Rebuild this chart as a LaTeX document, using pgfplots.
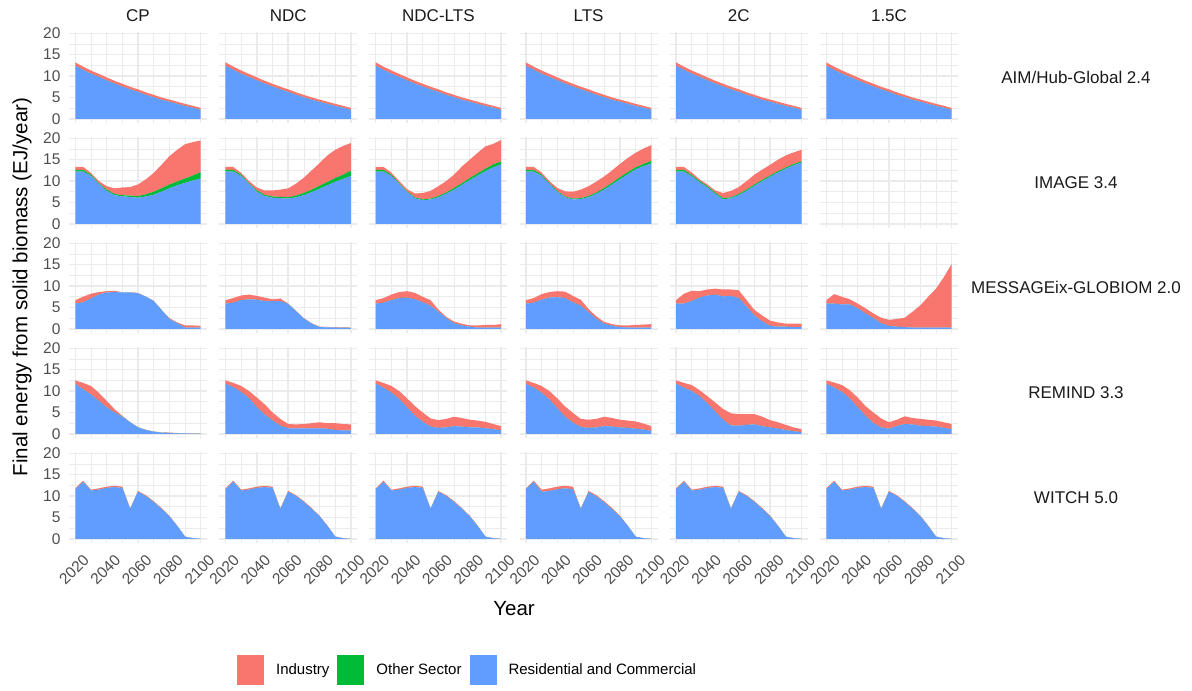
\documentclass[border=0pt]{standalone}
\usepackage{fontspec}
\setmainfont{Liberation Sans}
\usepackage{pgfplots}
\usepackage{pgfplotstable}
\pgfplotsset{compat=1.18}
\definecolor{indc}{HTML}{F8766D}
\definecolor{othc}{HTML}{00BA38}
\definecolor{resc}{HTML}{619CFF}
\definecolor{gridc}{HTML}{EBEBEB}
\definecolor{tickc}{HTML}{4D4D4D}
\definecolor{stripc}{HTML}{1A1A1A}

% ---------------- AIM/Hub-Global 2.4 (same in all scenarios)
\pgfplotstableread{
year res oth ind
2020 12.4 0 0.8
2025 11.45 0 0.75
2030 10.55 0 0.75
2035 9.8 0 0.7
2040 9.0 0 0.7
2045 8.25 0 0.65
2050 7.55 0 0.65
2055 6.9 0 0.6
2060 6.3 0 0.6
2065 5.6 0 0.6
2070 5.05 0 0.55
2075 4.45 0 0.55
2080 4.0 0 0.5
2085 3.5 0 0.5
2090 3.0 0 0.5
2095 2.6 0 0.45
2100 2.1 0 0.45
}\tAIM
% ---------------- IMAGE 3.4
\pgfplotstableread{
year res oth ind
2020 12.2 0.4 0.7
2025 12.2 0.4 0.7
2030 11.2 0.3 0.4
2035 9.3 0.2 0.5
2040 7.7 0.3 0.8
2045 6.7 0.3 1.3
2050 6.4 0.3 1.8
2055 6.3 0.3 2.0
2060 6.1 0.4 2.7
2065 6.4 0.5 3.5
2070 6.8 0.7 4.4
2075 7.5 0.8 5.5
2080 8.3 0.9 6.6
2085 9.0 0.9 7.4
2090 9.6 1.0 8.0
2095 10.1 1.2 7.8
2100 10.6 1.5 7.4
}\tIMcp
\pgfplotstableread{
year res oth ind
2020 12.2 0.4 0.7
2025 12.2 0.4 0.7
2030 11.2 0.3 0.4
2035 9.3 0.2 0.5
2040 7.5 0.3 0.7
2045 6.5 0.3 1.0
2050 6.1 0.3 1.4
2055 6.0 0.3 1.7
2060 5.9 0.3 2.1
2065 6.2 0.4 2.8
2070 6.7 0.5 3.6
2075 7.4 0.6 4.5
2080 8.2 0.7 5.3
2085 9.0 0.8 6.2
2090 9.8 0.9 6.6
2095 10.5 1.0 6.7
2100 11.2 1.2 6.5
}\tIMndc
\pgfplotstableread{
year res oth ind
2020 12.2 0.4 0.7
2025 12.2 0.4 0.7
2030 11.2 0.3 0.5
2035 9.3 0.2 0.5
2040 7.4 0.2 0.5
2045 6.0 0.2 0.9
2050 5.5 0.2 1.5
2055 5.7 0.2 1.8
2060 6.2 0.3 2.3
2065 7.0 0.3 2.7
2070 8.0 0.4 3.1
2075 9.1 0.4 3.9
2080 10.2 0.5 4.3
2085 11.3 0.5 4.8
2090 12.3 0.6 5.2
2095 13.2 0.7 4.8
2100 13.9 0.7 5.0
}\tIMnl
\pgfplotstableread{
year res oth ind
2020 12.2 0.4 0.7
2025 12.2 0.4 0.7
2030 11.2 0.3 0.5
2035 9.3 0.2 0.5
2040 7.5 0.2 0.7
2045 6.2 0.2 1.2
2050 5.7 0.2 1.6
2055 5.8 0.2 2.0
2060 6.2 0.3 2.3
2065 7.0 0.3 2.6
2070 8.0 0.4 2.7
2075 9.2 0.4 2.9
2080 10.4 0.5 3.1
2085 11.6 0.5 3.3
2090 12.7 0.5 3.4
2095 13.5 0.5 3.6
2100 14.1 0.6 3.7
}\tIMlts
\pgfplotstableread{
year res oth ind
2020 12.2 0.4 0.7
2025 12.2 0.4 0.7
2030 11.1 0.3 0.6
2035 9.7 0.3 0.4
2040 8.5 0.3 0.4
2045 7.0 0.3 0.5
2050 5.7 0.3 1.2
2055 6.0 0.2 1.5
2060 6.7 0.3 1.6
2065 7.7 0.3 2.0
2070 8.9 0.3 2.3
2075 10.0 0.3 2.4
2080 11.0 0.3 2.5
2085 12.0 0.3 2.7
2090 12.9 0.3 2.8
2095 13.7 0.3 2.7
2100 14.3 0.3 2.7
}\tIMtwo
% ---------------- MESSAGEix-GLOBIOM 2.0
\pgfplotstableread{
year res oth ind
2020 5.9 0 0.8
2025 6.2 0 1.3
2030 7.1 0 1.1
2035 8.0 0 0.6
2040 8.5 0 0.3
2045 8.6 0 0.3
2050 8.5 0 0.05
2055 8.5 0 0.05
2060 8.3 0 0.1
2065 7.5 0 0.05
2070 6.5 0 0.05
2075 4.4 0 0.05
2080 2.3 0 0.2
2085 1.3 0 0.2
2090 0.3 0 0.5
2095 0.3 0 0.5
2100 0.3 0 0.4
}\tMScp
\pgfplotstableread{
year res oth ind
2020 5.9 0 0.8
2025 6.1 0 1.1
2030 6.7 0 1.1
2035 6.9 0 1.1
2040 6.8 0 0.9
2045 6.5 0 0.8
2050 6.5 0 0.4
2055 6.5 0 0.6
2060 5.8 0 0.1
2065 4.1 0 0.1
2070 2.4 0 0.1
2075 1.2 0 0.1
2080 0.4 0 0.1
2085 0.35 0 0.1
2090 0.3 0 0.1
2095 0.25 0 0.1
2100 0.2 0 0.1
}\tMSndc
\pgfplotstableread{
year res oth ind
2020 5.9 0 0.8
2025 6.1 0 1.1
2030 6.7 0 1.3
2035 7.2 0 1.4
2040 7.3 0 1.5
2045 6.9 0 1.5
2050 6.2 0 1.3
2055 5.4 0 1.3
2060 4.0 0 0.5
2065 2.5 0 0.3
2070 1.3 0 0.4
2075 0.8 0 0.4
2080 0.5 0 0.3
2085 0.3 0 0.5
2090 0.3 0 0.6
2095 0.3 0 0.6
2100 0.3 0 0.8
}\tMSnl
\pgfplotstableread{
year res oth ind
2020 5.9 0 0.8
2025 6.1 0 1.1
2030 6.8 0 1.3
2035 7.3 0 1.3
2040 7.4 0 1.4
2045 7.2 0 1.5
2050 6.2 0 1.5
2055 5.4 0 1.4
2060 3.9 0 0.7
2065 2.3 0 0.6
2070 1.2 0 0.4
2075 0.7 0 0.4
2080 0.4 0 0.4
2085 0.3 0 0.5
2090 0.3 0 0.6
2095 0.3 0 0.7
2100 0.3 0 0.8
}\tMSlts
\pgfplotstableread{
year res oth ind
2020 5.9 0 0.8
2025 5.9 0 2.3
2030 6.5 0 2.4
2035 7.3 0 1.5
2040 7.8 0 1.4
2045 8.0 0 1.4
2050 7.6 0 1.6
2055 7.7 0 1.5
2060 7.2 0 1.8
2065 5.2 0 1.5
2070 3.1 0 1.3
2075 1.7 0 1.4
2080 0.7 0 1.2
2085 0.5 0 1.0
2090 0.5 0 0.7
2095 0.4 0 0.8
2100 0.4 0 0.8
}\tMStwo
\pgfplotstableread{
year res oth ind
2020 5.9 0 0.8
2025 5.9 0 2.2
2030 5.7 0 1.8
2035 5.7 0 1.2
2040 4.8 0 1.1
2045 3.6 0 1.2
2050 2.5 0 1.1
2055 1.3 0 1.3
2060 0.7 0 1.4
2065 0.5 0 1.8
2070 0.4 0 2.2
2075 0.3 0 3.7
2080 0.3 0 5.2
2085 0.3 0 7.2
2090 0.3 0 9.1
2095 0.3 0 11.8
2100 0.3 0 14.9
}\tMSone
% ---------------- REMIND 3.3
\pgfplotstableread{
year res oth ind
2020 11.7 0 0.8
2025 10.4 0 1.5
2030 9.2 0 2.0
2035 7.7 0 1.9
2040 6.2 0 1.5
2045 5.0 0 0.8
2050 4.0 0 0.2
2055 2.7 0 0.05
2060 1.5 0 0.05
2065 0.9 0 0.05
2070 0.5 0 0.05
2075 0.3 0 0.05
2080 0.2 0 0.1
2085 0.1 0 0.1
2090 0.1 0 0.05
2095 0.05 0 0.05
2100 0.05 0 0.05
}\tREcp
\pgfplotstableread{
year res oth ind
2020 11.7 0 0.8
2025 10.9 0 1.0
2030 9.8 0 1.4
2035 8.3 0 1.7
2040 6.2 0 2.3
2045 4.5 0 2.4
2050 3.1 0 1.9
2055 1.9 0 1.6
2060 1.3 0 1.0
2065 1.3 0 0.9
2070 1.3 0 1.0
2075 1.3 0 1.2
2080 1.3 0 1.4
2085 1.2 0 1.3
2090 0.9 0 1.6
2095 0.8 0 1.5
2100 0.8 0 1.4
}\tREndc
\pgfplotstableread{
year res oth ind
2020 11.7 0 0.8
2025 10.8 0 1.1
2030 9.6 0 1.6
2035 8.1 0 1.9
2040 6.2 0 2.1
2045 4.2 0 2.3
2050 2.8 0 2.2
2055 1.7 0 1.9
2060 1.4 0 1.8
2065 1.5 0 2.0
2070 1.8 0 2.2
2075 1.7 0 2.0
2080 1.5 0 1.8
2085 1.5 0 1.6
2090 1.3 0 1.5
2095 1.1 0 1.2
2100 0.8 0 1.0
}\tREnl
\pgfplotstableread{
year res oth ind
2020 11.7 0 0.8
2025 10.8 0 1.1
2030 9.6 0 1.6
2035 8.0 0 2.0
2040 6.0 0 2.3
2045 4.0 0 2.4
2050 2.6 0 2.3
2055 1.6 0 1.9
2060 1.4 0 1.9
2065 1.5 0 2.0
2070 1.8 0 2.2
2075 1.7 0 2.0
2080 1.5 0 1.8
2085 1.4 0 1.7
2090 1.2 0 1.7
2095 1.0 0 1.4
2100 0.7 0 1.1
}\tRElts
\pgfplotstableread{
year res oth ind
2020 11.7 0 0.8
2025 10.8 0 1.1
2030 10.0 0 1.4
2035 8.8 0 1.4
2040 7.1 0 1.7
2045 5.2 0 2.1
2050 3.3 0 2.5
2055 1.9 0 2.9
2060 1.9 0 2.7
2065 2.1 0 2.5
2070 2.2 0 2.4
2075 1.8 0 2.2
2080 1.5 0 1.7
2085 1.2 0 1.5
2090 0.9 0 1.2
2095 0.6 0 0.9
2100 0.4 0 0.7
}\tREtwo
\pgfplotstableread{
year res oth ind
2020 11.7 0 0.8
2025 10.8 0 1.2
2030 9.8 0 1.6
2035 8.2 0 2.0
2040 6.2 0 2.3
2045 4.2 0 2.3
2050 2.5 0 2.5
2055 1.5 0 2.1
2060 1.2 0 1.5
2065 1.8 0 1.5
2070 2.3 0 1.8
2075 2.2 0 1.5
2080 1.9 0 1.6
2085 1.8 0 1.5
2090 1.7 0 1.4
2095 1.4 0 1.3
2100 1.1 0 1.2
}\tREone
% ---------------- WITCH 5.0
\pgfplotstableread{
year res oth ind
2020 11.6 0 0.2
2025 13.3 0 0.3
2030 11.3 0 0.2
2035 11.5 0 0.3
2040 11.9 0 0.3
2045 12.1 0 0.3
2050 11.9 0 0.3
2055 7.0 0 0.1
2060 11.0 0 0.2
2065 10.0 0 0.2
2070 8.6 0 0.2
2075 7.0 0 0.2
2080 5.25 0 0.15
2085 3.0 0 0.1
2090 0.5 0 0
2095 0.15 0 0
2100 0 0 0
}\tWI
\pgfplotstableread{
year res oth ind
2020 11.6 0 0.2
2025 13.3 0 0.3
2030 11.0 0 0.5
2035 11.2 0 0.6
2040 11.6 0 0.6
2045 11.8 0 0.6
2050 11.6 0 0.6
2055 7.0 0 0.1
2060 10.9 0 0.3
2065 9.9 0 0.3
2070 8.5 0 0.3
2075 6.9 0 0.3
2080 5.2 0 0.2
2085 3.0 0 0.1
2090 0.5 0 0
2095 0.15 0 0
2100 0 0 0
}\tWIlts

\pgfplotsset{
  panel/.style={
    width=138pt, height=91pt, scale only axis, anchor=north west,
    xmin=2016, xmax=2104, ymin=-0.97, ymax=20.3,
    xtick={2020,2040,2060,2080,2100}, minor xtick={2030,2050,2070,2090},
    ytick={0,5,10,15,20}, minor ytick={2.5,7.5,12.5,17.5},
    grid=both,
    major grid style={gridc, line width=1.4pt},
    minor grid style={gridc, line width=0.7pt},
    axis line style={draw=none},
    major tick length=0pt, minor tick length=0pt,
    xticklabels={}, yticklabels={},
    /pgf/number format/assume math mode=true,
    tick label style={font=\fontsize{15.5}{18}\selectfont, text=tickc},
    yticklabel style={xshift=-5pt},
    stack plots=y,
  },
  leftcol/.style={yticklabels={0,5,10,15,20}},
  botrow/.style={xticklabels={2020,2040,2060,2080,2100},
     xticklabel style={rotate=45, anchor=north east, xshift=1pt, yshift=-9pt}},
  legstyle/.style={
    legend entries={Residential and Commercial, Other Sector, Industry},
    reverse legend,
    legend columns=3,
    legend image code/.code={\fill[##1] (0pt,-15pt) rectangle (27pt,15pt); \path (37pt,0pt);},
    legend style={at={(1.217,-1.396)}, anchor=west, draw=none, fill=none,
      inner sep=0pt, font=\fontsize{15}{18}\selectfont,
      /tikz/every even column/.append style={column sep=6pt}},
  },
}

\newcommand\panel[4]{%
  \begin{axis}[panel, at={(69pt+150.2pt*#1, 659pt-105pt*#2)}, #4]
    \addplot[fill=resc, draw=none] table[x=year, y=res] {#3} \closedcycle;
    \addplot[fill=othc, draw=none] table[x=year, y=oth] {#3} \closedcycle;
    \addplot[fill=indc, draw=none] table[x=year, y=ind] {#3} \closedcycle;
  \end{axis}}

\newcommand\rowlabel[2]{%
  \node[anchor=center, font=\fontsize{17}{20}\selectfont, text=stripc, inner sep=0pt]
    at (1076pt, 613.5pt-105pt*#1) {\vphantom{A}#2};}

\begin{document}
\begin{tikzpicture}
\useasboundingbox (0,0) rectangle (1192pt,691pt);
% row 0: AIM
\panel{0}{0}{\tAIM}{leftcol}
\panel{1}{0}{\tAIM}{}
\panel{2}{0}{\tAIM}{}
\panel{3}{0}{\tAIM}{}
\panel{4}{0}{\tAIM}{}
\panel{5}{0}{\tAIM}{}
% row 1: IMAGE
\panel{0}{1}{\tIMcp}{leftcol}
\panel{1}{1}{\tIMndc}{}
\panel{2}{1}{\tIMnl}{}
\panel{3}{1}{\tIMlts}{}
\panel{4}{1}{\tIMtwo}{}
\begin{axis}[panel, at={(69pt+150.2pt*5, 659pt-105pt*1)}]
\end{axis}
% row 2: MESSAGE
\panel{0}{2}{\tMScp}{leftcol}
\panel{1}{2}{\tMSndc}{}
\panel{2}{2}{\tMSnl}{}
\panel{3}{2}{\tMSlts}{}
\panel{4}{2}{\tMStwo}{}
\panel{5}{2}{\tMSone}{}
% row 3: REMIND
\panel{0}{3}{\tREcp}{leftcol}
\panel{1}{3}{\tREndc}{}
\panel{2}{3}{\tREnl}{}
\panel{3}{3}{\tRElts}{}
\panel{4}{3}{\tREtwo}{}
\panel{5}{3}{\tREone}{}
% row 4: WITCH
\panel{0}{4}{\tWI}{leftcol,botrow,legstyle}
\panel{1}{4}{\tWI}{botrow}
\panel{2}{4}{\tWI}{botrow}
\panel{3}{4}{\tWIlts}{botrow}
\panel{4}{4}{\tWI}{botrow}
\panel{5}{4}{\tWI}{botrow}
% strip labels
\foreach \i/\t in {0/CP,1/NDC,2/NDC-LTS,3/LTS,4/2C,5/1.5C}
  \node[anchor=base, font=\fontsize{17}{20}\selectfont, text=stripc, inner sep=0pt]
    at (138pt+150.2pt*\i, 669.3pt) {\t};
\rowlabel{0}{AIM/Hub-Global 2.4}
\rowlabel{1}{IMAGE 3.4}
\rowlabel{2}{MESSAGEix-GLOBIOM 2.0}
\rowlabel{3}{REMIND 3.3}
\rowlabel{4}{WITCH 5.0}
% axis titles
\node[rotate=90, font=\fontsize{20.5}{24}\selectfont, inner sep=0pt] at (22pt, 404pt)
  {Final energy from solid biomass (EJ/year)};
\node[anchor=base, font=\fontsize{20.5}{24}\selectfont, inner sep=0pt] at (514pt, 75pt) {Year};
\end{tikzpicture}
\end{document}
